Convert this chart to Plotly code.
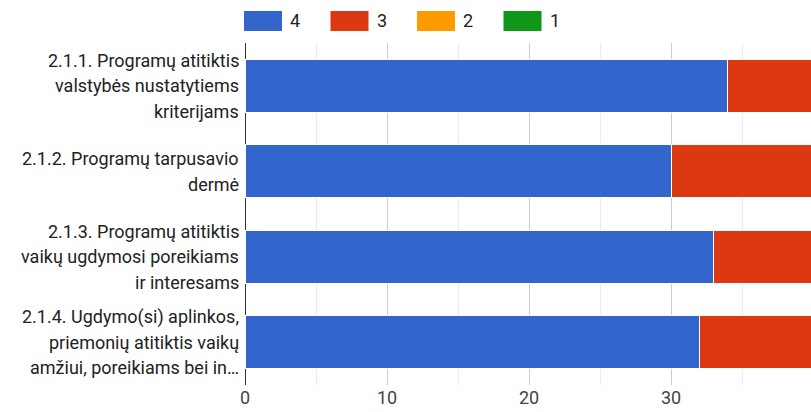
import plotly.graph_objects as go

categories = ["2.1.1.", "2.1.2.", "2.1.3.", "2.1.4."]
label_lines = [
    ["2.1.1. Programų atitiktis", "valstybės nustatytiems", "kriterijams"],
    ["2.1.2. Programų tarpusavio", "dermė"],
    ["2.1.3. Programų atitiktis", "vaikų ugdymosi poreikiams", "ir interesams"],
    ["2.1.4. Ugdymo(si) aplinkos,", "priemonių atitiktis vaikų", "amžiui, poreikiams bei in…"],
]
series_names = ["4", "3", "2", "1"]
values_4 = [34, 30, 33, 32]
values_3 = [10, 14, 11, 12]
values_2 = [0, 0, 0, 0]
values_1 = [0, 0, 0, 0]
colors = ["#3366cc", "#dc3912", "#ff9900", "#109618"]
x_ticks = [0, 10, 20, 30, 40]

FONT = "Roboto, Arial, sans-serif"
FS = 18

fig = go.Figure()
for name, vals, col in zip(series_names, [values_4, values_3, values_2, values_1], colors):
    fig.add_trace(go.Bar(
        y=categories, x=vals, name=name, orientation="h",
        marker=dict(color=col, line=dict(color="white", width=1)),
        showlegend=False,
    ))

annotations = []
line_gap = 25.5
for cat, lines in zip(categories, label_lines):
    n = len(lines)
    for i, ln in enumerate(lines):
        offset = ((n - 1) / 2 - i) * line_gap
        annotations.append(dict(
            text=ln, xref="paper", x=0, xanchor="right", xshift=-4,
            yref="y", y=cat, yanchor="middle", yshift=offset,
            showarrow=False, font=dict(family=FONT, size=FS, color="#222222"),
        ))

# custom legend
shapes = []
leg_x0 = 244
step = 86.5
W = 811
H = 412
T, B, L = 43, 27, 245
ph = H - T - B
pw = W - L
for i, (name, col) in enumerate(zip(series_names, colors)):
    x0 = leg_x0 + i * step
    shapes.append(dict(type="rect", xref="paper", yref="paper",
                       x0=(x0 - L) / pw, x1=(x0 + 38 - L) / pw,
                       y0=1 + (T - 31) / ph, y1=1 + (T - 11) / ph,
                       fillcolor=col, line=dict(width=0)))
    annotations.append(dict(text=name, xref="paper", yref="paper",
                            x=(x0 + 44 - L) / pw, xanchor="left",
                            y=1 + (T - 21) / ph, yanchor="middle",
                            showarrow=False, font=dict(family=FONT, size=FS, color="#222222")))

fig.update_layout(
    barmode="stack",
    bargap=0.38,
    width=W, height=H,
    margin=dict(l=L, r=0, t=T, b=B),
    plot_bgcolor="white", paper_bgcolor="white",
    font=dict(family=FONT, size=FS, color="#444444"),
    annotations=annotations,
    shapes=shapes,
    showlegend=False,
    xaxis=dict(
        range=[0, pw / 14.2], tickvals=x_ticks, ticks="",
        showgrid=True, gridcolor="#cccccc", gridwidth=1,
        minor=dict(dtick=5, tick0=0, showgrid=True, gridcolor="#ebebeb", gridwidth=1),
        zeroline=True, zerolinecolor="#333333", zerolinewidth=1,
        showline=False, tickfont=dict(family=FONT, size=FS, color="#444444"),
        fixedrange=True,
    ),
    yaxis=dict(
        autorange="reversed", showticklabels=False, showgrid=False,
        zeroline=False, showline=False, fixedrange=True,
    ),
)

fig.write_html("out.html", config={"displayModeBar": False},
               post_script="document.body.style.margin='0';")
